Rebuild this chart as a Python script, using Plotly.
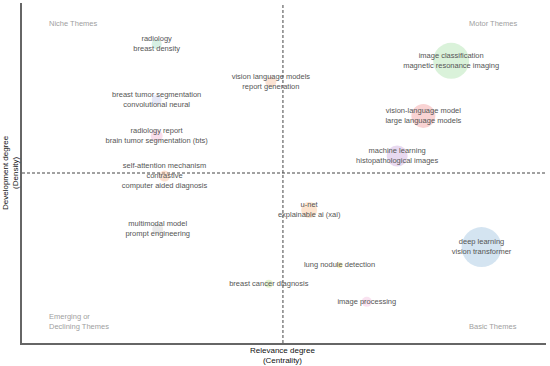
import plotly.graph_objects as go

# Thematic map: each cluster = (centrality, density, size, keywords)
labels = [
    "radiology<br>breast density",
    "vision language models<br>report generation",
    "breast tumor segmentation<br>convolutional neural",
    "radiology report<br>brain tumor segmentation (bts)",
    "self-attention mechanism<br>contrastive<br>computer aided diagnosis",
    "multimodal model<br>prompt engineering",
    "image classification<br>magnetic resonance imaging",
    "vision-language model<br>large language models",
    "machine learning<br>histopathological images",
    "u-net<br>explainable ai (xai)",
    "deep learning<br>vision transformer",
    "lung nodule detection",
    "breast cancer diagnosis",
    "image processing",
]
centrality = [0.257, 0.475, 0.257, 0.257, 0.272, 0.259, 0.819, 0.766, 0.716, 0.548,
              0.877, 0.606, 0.471, 0.658]
density = [0.879, 0.768, 0.715, 0.609, 0.491, 0.335, 0.830, 0.668, 0.550, 0.391,
           0.282, 0.229, 0.174, 0.121]
cluster_size = [10, 11, 10, 12, 11, 11, 36, 24, 21, 16, 40, 6, 8, 10]
colors = [
    "rgba(150,215,185,0.55)", "rgba(245,180,140,0.55)", "rgba(190,195,235,0.55)",
    "rgba(240,170,205,0.55)", "rgba(245,180,140,0.6)", "rgba(200,200,200,0.55)",
    "rgba(160,220,160,0.55)", "rgba(240,150,150,0.6)", "rgba(200,165,220,0.6)",
    "rgba(250,190,140,0.6)", "rgba(160,195,225,0.65)", "rgba(245,220,90,0.6)",
    "rgba(190,225,140,0.6)", "rgba(240,180,215,0.55)",
]
median_centrality = 0.498
median_density = 0.5

fig = go.Figure()
fig.add_trace(go.Scatter(
    x=centrality, y=density, mode="markers+text",
    text=labels, textposition="middle center",
    textfont=dict(family="Liberation Sans, Arial, sans-serif", size=7.5, color="#555555"),
    marker=dict(size=cluster_size, sizemode="diameter", color=colors, line=dict(width=0)),
    hoverinfo="skip", showlegend=False,
))

dash_line = dict(color="#444444", width=1, dash="3px,2px")
fig.add_shape(type="line", xref="x", yref="paper", x0=median_centrality, x1=median_centrality,
              y0=0, y1=1, line=dash_line, layer="below")
fig.add_shape(type="line", xref="paper", yref="y", x0=0, x1=1,
              y0=median_density, y1=median_density, line=dash_line, layer="below")

qfont = dict(family="Liberation Sans, Arial, sans-serif", size=7.5, color="#a0a0a0")
fig.add_annotation(x=0.048, y=0.94, xref="paper", yref="paper", text="Niche Themes",
                   showarrow=False, xanchor="left", yanchor="middle", font=qfont)
fig.add_annotation(x=0.948, y=0.94, xref="paper", yref="paper", text="Motor Themes",
                   showarrow=False, xanchor="right", yanchor="middle", font=qfont)
fig.add_annotation(x=0.048, y=0.063, xref="paper", yref="paper", text="Emerging or<br>Declining Themes",
                   showarrow=False, xanchor="left", yanchor="middle", align="left", font=qfont)
fig.add_annotation(x=0.948, y=0.048, xref="paper", yref="paper", text="Basic Themes",
                   showarrow=False, xanchor="right", yanchor="middle", font=qfont)

tfont = dict(family="Liberation Sans, Arial, sans-serif", size=8, color="#111111")
fig.add_annotation(x=median_centrality, y=0, xref="x", yref="paper", yshift=-1,
                   text="Relevance degree<br>(Centrality)", showarrow=False,
                   xanchor="center", yanchor="top", font=tfont)
fig.add_annotation(x=0, y=median_density, xref="paper", yref="y", xshift=-12,
                   text="Development degree<br>(Density)", showarrow=False, textangle=-90,
                   xanchor="center", yanchor="middle", font=tfont)

fig.update_xaxes(range=[0, 1], showgrid=False, zeroline=False, showticklabels=False,
                 ticks="", showline=True, linecolor="#666666", linewidth=1.5)
fig.update_yaxes(range=[0, 1], showgrid=False, zeroline=False, showticklabels=False,
                 ticks="", showline=True, linecolor="#666666", linewidth=1.5)
fig.update_layout(width=550, height=366, margin=dict(l=22, r=4, t=3, b=23),
                  plot_bgcolor="white", paper_bgcolor="white")
fig.write_html("out.html", config={"displayModeBar": False},
               post_script="document.body.style.margin='0';document.body.style.overflow='hidden';")
